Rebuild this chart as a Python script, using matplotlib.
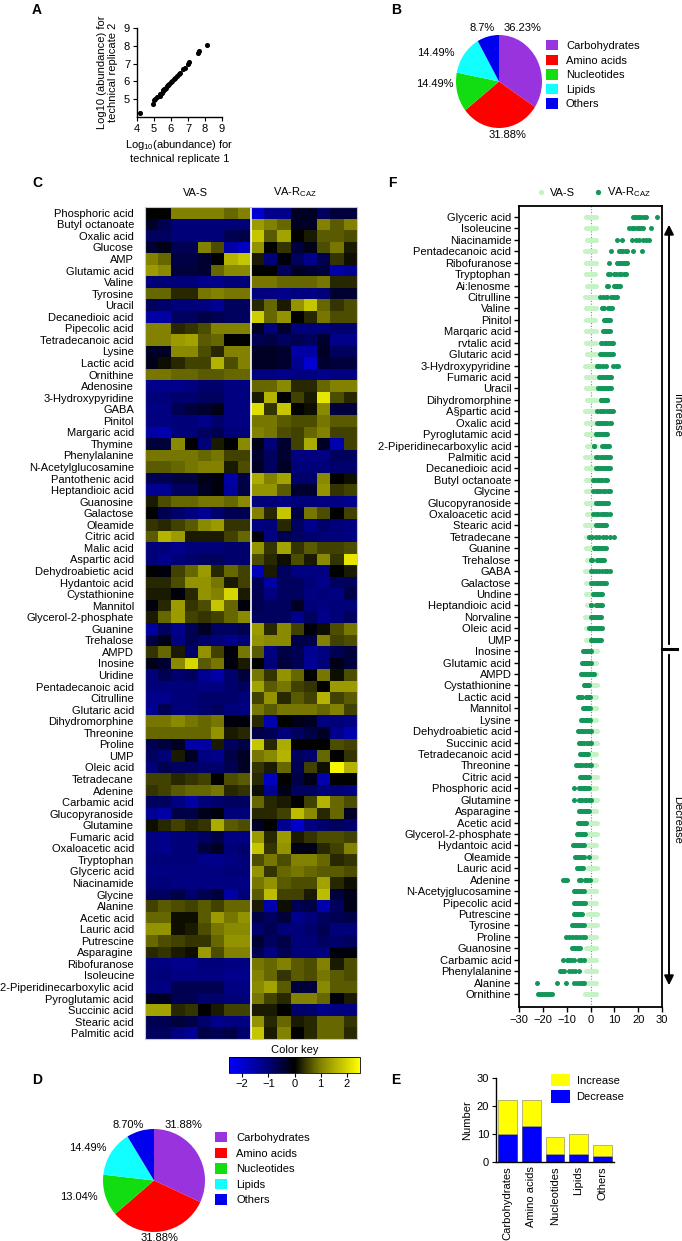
import numpy as np
import matplotlib
matplotlib.use("Agg")
import matplotlib.pyplot as plt
from matplotlib.colors import LinearSegmentedColormap, Normalize
from matplotlib.cm import ScalarMappable
from matplotlib.patches import Patch, FancyArrowPatch
from matplotlib.lines import Line2D

plt.rcParams['font.family'] = ['Liberation Sans', 'DejaVu Sans']
plt.rcParams['font.size'] = 8
plt.rcParams['mathtext.default'] = 'regular'
plt.rcParams['axes.linewidth'] = 1.0

# ---------------- data ----------------
# A: technical replicates (log10 abundance)
rep1 = [4.2, 4.95, 5.0, 5.05, 5.2, 5.35, 5.35, 5.45, 5.5, 5.55, 5.6, 5.65, 5.7, 5.75, 5.8, 5.85,
        5.9, 6.0, 6.05, 6.15, 6.25, 6.35, 6.45, 6.5, 6.7, 6.8, 7.0, 7.05, 7.6, 7.65, 8.1]
rep2 = [4.2, 4.75, 4.95, 5.0, 5.15, 5.2, 5.3, 5.35, 5.45, 5.5, 5.55, 5.6, 5.65, 5.72, 5.78, 5.82,
        5.88, 5.95, 6.0, 6.12, 6.2, 6.3, 6.4, 6.45, 6.7, 6.75, 7.0, 7.1, 7.6, 7.7, 8.05]

# B / D: class composition
class_names = ["Carbohydrates", "Amino acids", "Nucleotides", "Lipids", "Others"]
class_colors = ['#9933dd', '#ff0000', '#11dd11', '#11ffff', '#0000ee']
pct_b = [36.23, 31.88, 14.49, 14.49, 8.7]
pct_b_labels = ["36.23%", "31.88%", "14.49%", "14.49%", "8.7%"]
pct_d = [31.88, 31.88, 13.04, 14.49, 8.70]
pct_d_labels = ["31.88%", "31.88%", "13.04%", "14.49%", "8.70%"]

# C: heatmap (8 VA-S replicates, 8 VA-R_CAZ replicates)
hm_labels = ["Phosphoric acid", "Butyl octanoate", "Oxalic acid", "Glucose", "AMP", "Glutamic acid",
             "Valine", "Tyrosine", "Uracil", "Decanedioic acid", "Pipecolic acid", "Tetradecanoic acid",
             "Lysine", "Lactic acid", "Ornithine", "Adenosine", "3-Hydroxypyridine", "GABA", "Pinitol",
             "Margaric acid", "Thymine", "Phenylalanine", "N-Acetylglucosamine", "Pantothenic acid",
             "Heptandioic acid", "Guanosine", "Galactose", "Oleamide", "Citric acid", "Malic acid",
             "Aspartic acid", "Dehydroabietic acid", "Hydantoic acid", "Cystathionine", "Mannitol",
             "Glycerol-2-phosphate", "Guanine", "Trehalose", "AMPD", "Inosine", "Uridine",
             "Pentadecanoic acid", "Citrulline", "Glutaric acid", "Dihydromorphine", "Threonine",
             "Proline", "UMP", "Oleic acid", "Tetradecane", "Adenine", "Carbamic acid",
             "Glucopyranoside", "Glutamine", "Fumaric acid", "Oxaloacetic acid", "Tryptophan",
             "Glyceric acid", "Niacinamide", "Glycine", "Alanine", "Acetic acid", "Lauric acid",
             "Putrescine", "Asparagine", "Ribofuranose", "Isoleucine", "2-Piperidinecarboxylic acid",
             "Pyroglutamic acid", "Succinic acid", "Stearic acid", "Palmitic acid"]
hm_values = [
    [0, 0, 1, 1, 1, 1, 0.8, 1, -2, -1.2, -1.2, -0.3, -0.3, -0.8, -0.5, -0.5],
    [-0.3, -0.7, -1, -1, -1, -1, -1, -1, 1.3, 1, 0.8, -0.3, -0.3, 1, 0.7, 1],
    [-0.8, -0.8, -1, -1, -1, -1, -0.7, -0.6, 1.8, 0.7, 1.4, 0, 0.2, 0.7, 0.7, 0.6],
    [-0.4, -0.2, -0.7, -0.7, 1, 0.6, -1.5, -1.8, 1.2, 0, 0.4, -0.5, -0.2, 0.6, 0.9, 0.2],
    [1, 0.8, -0.6, -0.6, -0.4, 0, 1.6, 1.8, 0.2, -1, -0.1, -0.8, -1.2, -0.7, 0.4, 0.1],
    [1.3, 1.1, -0.5, -0.5, -0.4, 0.8, 1.1, 1.1, 0, 0, -0.8, -0.3, -0.4, -0.5, -1.5, -1.3],
    [-1, -1, -1, -1, -1.2, -1.2, -1, -1, 0.9, 0.9, 0.8, 0.8, 0.8, 0.9, 0.3, 0.3],
    [0.8, 0.8, 0.3, 0.3, 0.9, 1, 0.9, 0.9, -1.1, -1.1, -1.2, -1.1, -1.1, -1, -0.4, -0.4],
    [-0.8, -0.9, -1, -1, -1.1, -1.3, -0.8, -0.8, 0.3, 0.8, 0.2, 1.2, 1.8, 0.8, 0.4, 0.6],
    [-1.5, -1.5, -0.8, -0.8, -0.6, -0.7, -0.8, -0.8, 1.9, 0.8, 1.2, 0, 0.3, 0.9, 0.6, 0.6],
    [1, 1, 0.3, 0.4, 0.6, 1, 1, 1, -0.3, -1, -0.4, -1, -1, -1, -0.9, -0.9],
    [1, 1, 1.3, 1.4, 0.7, 0.8, 0, 0, -0.7, -0.6, -0.8, -0.7, -0.8, -0.4, -1.2, -1.2],
    [-0.3, -0.3, 1.1, 1.1, 0.6, 0.3, 1, 1, -0.3, -0.3, -0.4, -1.5, -1.5, -0.3, -0.8, -0.8],
    [-0.2, 0.1, 0.3, 0.5, 0.5, 1.6, 0.6, 1, -0.3, -0.3, -0.4, -1.3, -2, -0.4, -0.5, -0.5],
    [0.9, 0.9, 0.8, 0.8, 0.7, 0.7, 0.8, 0.8, -1.1, -1.1, -1.2, -1.1, -1.1, -1.2, -1.1, -1.1],
    [-1.2, -1.2, -1.2, -1.1, -0.9, -0.9, -1.1, -1.1, 0.8, 0.8, 1.1, 0.3, 0.3, 0.8, 1, 1],
    [-1, -1, -0.9, -0.9, -0.8, -0.8, -1.1, -1.1, 0.2, 1.6, 0, 0.5, 0.2, 2.2, 0.6, 0.3],
    [-1.1, -1.1, -0.7, -0.5, -0.4, -0.2, -1.1, -1.1, 2.1, 0.4, 1.8, 0, 0.1, 1.1, -0.5, -0.5],
    [-1.1, -1.1, -1, -1, -1.2, -0.9, -1.1, -1.1, 0.9, 0.9, 0.7, 0.6, 0.6, 0.9, 0.7, 0.7],
    [-1.5, -1.6, -1, -1, -0.8, -0.7, -1, -1, 1, 0.9, 0.6, 0.5, 0.8, 1, 0.5, 0.5],
    [-0.5, -0.5, 1.1, 0, -1, 0.2, 0, 1.1, -0.2, -1, -0.4, 0.5, 1.5, -0.3, -1.6, 0.5],
    [0.9, 0.9, 0.9, 0.9, 0.8, 0.9, 0.5, 0.5, -0.4, -0.8, -0.4, -1.1, -1.1, -1.1, -0.8, -0.8],
    [0.7, 0.7, 0.8, 0.9, 1, 1, 0.2, 0.6, -0.3, -0.8, -0.3, -1, -1, -1, -0.9, -0.9],
    [-0.7, -0.7, -0.5, -0.5, -0.2, -0.1, -1.5, -0.6, 1.5, 1, 1.4, -0.9, -0.9, 1.1, 0, 0.1],
    [-1.3, -1.3, -0.8, -0.8, -0.3, -0.1, -1.4, -0.6, 1.2, 1.2, 0.7, -0.4, -0.4, 1.2, 0.4, 0.5],
    [0.2, 0.6, 0.8, 0.8, 0.9, 0.9, 0.8, 1.1, -1, -1, -1.1, -1, -1, -1.1, -1.1, -1.2],
    [0, -0.7, -0.9, -1.1, -1.3, -0.9, -0.7, -0.7, 1, 0.3, 1.8, -0.6, 0.9, 0.6, 0, 0.5],
    [0.4, 0.3, 0.5, 0.7, 1.1, 1.3, 0.4, 0.4, -1.1, -1, 0.3, -0.8, -1.2, -0.9, -1, -1.1],
    [0.7, 1.6, 1.3, 0.2, 0.2, 0.2, 0.5, 0.8, -0.1, -1.1, -0.7, -0.8, -0.9, -1, -1, -1.1],
    [-1, -1, -1.2, -1, -1, -1, -0.9, -0.9, 1.2, 0.4, 1.4, 0.4, 0.7, 0.5, 0.5, 0.6],
    [-1, -1.2, -1, -0.9, -0.8, -0.8, -0.9, -0.9, 0.6, 0.3, 0.1, 0.6, 0.2, 1.1, 0.4, 2.2],
    [0, -0.1, 0.5, 0.8, 1.3, 0.3, 0.8, 0.5, -1.7, 0.2, -0.8, -1.1, -1.1, -1.1, 0, 0.2],
    [0.3, 0.3, 0.6, 1.2, 1.2, 0.9, 0.2, 0.5, -0.7, -1.5, -0.8, -0.8, -1, -1.2, -0.8, -0.8],
    [0.2, 0.2, -0.1, 0.3, 1.2, 1, 2, 0.2, -0.7, -1.1, -0.8, -0.8, -1.1, -1, -1.1, -0.6],
    [-0.1, 0.3, 1.3, 0.4, 0.6, 1.8, 0.8, -0.1, -0.7, -0.8, -0.8, -0.3, -1, -1.1, -1, -1],
    [0.2, 0.8, 1.3, 0.5, 0.4, 0.5, 0.8, 1.1, -0.8, -0.8, -0.8, -1.2, -0.8, -1.2, -1, -0.8],
    [-1.4, -0.8, -1.2, -0.7, -0.3, -0.8, -0.8, -0.7, 1.3, 0.3, 1.1, 0.5, -0.1, 0.1, 0.6, 0.9],
    [-0.6, -0.2, -1.1, -0.7, -0.9, -1, -1.2, -1, 1.2, 1.1, 1.1, -0.6, -0.6, 1, 0.5, 0.6],
    [0.4, 0.8, 0.2, -0.9, 1.2, 0.5, -0.1, 0.9, 0.7, -1.1, -0.6, -0.7, -1.3, -1.1, -0.7, -0.5],
    [-0.2, -0.4, 1.1, 2, 0.7, 0.9, -0.1, 0.2, 0, -1, -0.5, -0.7, -1.3, -1, -0.2, -0.5],
    [-1, -0.7, -0.9, -0.8, -1.3, -1.5, -0.9, -0.5, 0.9, 0.4, 1.2, 0.8, 0, 0.9, 0.1, 0.6],
    [-1, -1, -1, -1, -1.1, -1.1, -0.9, -0.8, 1.4, 0.7, 0.9, 0.5, 0.4, 0, 1.3, 1.3],
    [-1.2, -1.2, -1, -1, -0.9, -0.9, -0.9, -1, 0.5, 1.2, 0.3, 0.7, 0.5, 1.6, 0.5, 0.7],
    [-1.3, -0.7, -1, -1, -0.9, -0.8, -1, -1.1, 0.9, 0.7, 0.9, 0.9, 0.9, 0.8, 1, 0.5],
    [0.9, 0.9, 1.1, 0.9, 0.8, 0.9, -0.1, -0.1, 0.3, -1.6, 0, -0.2, -0.3, -1.1, -1, -1.1],
    [0.8, 0.8, 0.8, 0.8, 0.8, 1.2, 0.2, 0.3, -0.6, -0.7, -1, -0.8, -0.6, -0.3, -1.2, -1.6],
    [-0.7, -0.5, -0.3, -1.5, -1.5, 0.2, -0.8, -0.6, 1.8, 0.3, 1.5, 0, 0, 0, 0.6, 0.5],
    [-0.8, -1, 0.2, -0.3, -1.1, -1.2, -0.6, -0.3, 0.9, 1.1, 1.6, -0.8, -0.9, 0.8, 0, 0.4],
    [-1, -0.7, -0.8, -0.8, -0.9, -0.9, -0.7, -0.3, 0.4, 0.2, 0.8, -0.7, 0.5, 0.1, 2.4, 1.6],
    [0.5, 0.5, 0.3, 0.4, 0.5, 0, 0.6, 0.7, 0.3, -1.8, 0, -0.6, -0.2, -1.6, 0, 0],
    [0.4, 0.5, 0.7, 0.8, 0.8, 0.9, 0.3, 0.4, 0.1, -1.3, -0.2, -0.8, -0.8, -1, -1, -1.1],
    [-0.8, -0.8, -1.1, -1.5, -1, -0.9, -0.8, -0.8, 0.8, 0.3, 0.2, 0, 0.5, 1.6, 0.8, 0.6],
    [-1.3, -1.5, -0.6, -0.6, -0.2, -0.1, -1, -1, 0.3, 0.3, 0.5, 1.7, 1.1, 0.3, 0.8, -0.3],
    [0.1, 0.3, 0.5, 0.3, 0.4, 1.5, 0.7, 0.6, -0.3, 0, -1.3, -1.9, -1.1, -0.9, -0.8, -0.9],
    [-1.1, -1.2, -1, -1, -0.8, -0.6, -1.1, -1.1, 1.3, 0.3, 1.3, 0.2, 0.4, 0.6, 0.6, 0.5],
    [-1.1, -1.2, -1, -1, -0.5, -0.3, -1, -0.9, 1.8, 0.4, 1.2, -0.2, -0.2, 0.3, 0.5, 1],
    [-1, -1, -1, -1, -1.2, -1.2, -1.1, -1, 0.6, 0.9, 0.6, 1, 1, 0.8, 0.3, 0.4],
    [-1.1, -1.1, -1.1, -1.1, -1.1, -1.1, -1, -1, 1.2, 0.4, 0.8, 0.9, 0.8, 0.7, 0.7, 0.6],
    [-1, -1, -1.1, -1.1, -1.1, -1.1, -1.1, -1.1, 0.9, 1.2, 0.7, 0.6, 0.6, 1.4, 0.3, 0.1],
    [-0.8, -0.8, -0.6, -0.9, -0.7, -0.5, -1.5, -1, 0.7, 1.7, 0.5, 0.5, 0.2, 1.7, -0.5, -0.2],
    [0.5, 0.7, 0.6, 0.5, 0.7, 0.5, 0.8, 0.8, 0.2, -1.6, 0.1, -0.7, -0.6, -1.6, -0.8, -0.2],
    [0.8, 0.8, 0.1, 0.1, 0.7, 1.3, 0.9, 1.2, -0.6, -0.8, -0.5, -1.2, -1, -0.8, -0.7, -0.6],
    [1.2, 1.2, 0.1, 0.2, 0.6, 0.9, 1.1, 1.1, -0.9, -0.7, -1, -1, -0.9, -0.7, -1, -1],
    [0.8, 0.6, 0.5, 0.4, 0.4, 0.8, 1.2, 1.2, -0.4, -0.8, -0.6, -1, -1, -0.8, -0.9, -0.8],
    [0.3, 0.4, 0.2, 0.1, 1.3, 0.6, 1, 1, -0.7, -1.1, -0.7, -1, -1, -1.1, -0.1, -0.1],
    [-1.1, -1.1, -1.2, -1.2, -1, -1, -1.1, -1.1, 0.9, 0.8, 1, 0.7, 0.6, 1, 0.2, 0.6],
    [-1, -1, -1.1, -1.1, -1.1, -1.1, -1.2, -1.2, 1, 0.8, 0.4, 0.7, 0.6, 0.9, 0.7, 0.6],
    [-1.1, -1.1, -0.7, -0.7, -0.7, -0.7, -1.1, -1.1, 1.1, 1.4, 0.7, -0.5, -0.5, 1.1, 0.7, 0.7],
    [-0.3, -0.3, -0.7, -0.7, -0.9, -0.9, -1, -1, 0.9, 0.5, 0.3, 1, 1, 0.8, -0.1, 0.2],
    [1.4, 1.4, 0.3, 0.4, 0, 0.2, 0.5, 0.5, 0.2, 0.2, 0, -0.9, -0.9, -1.2, -1.1, -1.1],
    [-0.7, -0.7, -0.5, -0.6, -0.9, -1.2, -1.1, -1.1, 1.2, 0.3, 0.8, 0.2, 0.3, 0.8, 0.8, 0.4],
    [-0.8, -0.8, -1.1, -1.3, -0.6, -0.7, -0.6, -0.9, 1.8, 0.2, 1, 0, 0.3, 0.8, 0.8, 0.3],
]

# E: counts per class
n_increase = [12, 9, 6, 7, 4]
n_decrease = [10, 13, 3, 3, 2]

# F: fold change per metabolite (8 replicates each)
f_labels = ["Glyceric acid", "Isoleucine", "Niacinamide", "Pentadecanoic acid", "Ribofuranose",
            "Tryptophan", "Ai:lenosme", "Citrulline", "Valine", "Pinitol", "Marqaric acid",
            "rvtalic acid", "Glutaric acid", "3-Hydroxypyridine", "Fumaric acid", "Uracil",
            "Dihydromorphine", "A§partic acid", "Oxalic acid", "Pyroglutamic acid",
            "2-Piperidinecarboxylic acid", "Palmitic acid", "Decanedioic acid", "Butyl octanoate",
            "Glycine", "Glucopyranoside", "Oxaloacetic acid", "Stearic acid", "Tetradecane",
            "Guanine", "Trehalose", "GABA", "Galactose", "Undine", "Heptandioic acid", "Norvaline",
            "Oleic acid", "UMP", "Inosine", "Glutamic acid", "AMPD", "Cystathionine", "Lactic acid",
            "Mannitol", "Lysine", "Dehydroabietic acid", "Succinic acid", "Tetradecanoic acid",
            "Threonine", "Citric acid", "Phosphoric acid", "Glutamine", "Asparagine", "Acetic acid",
            "Glycerol-2-phosphate", "Hydantoic acid", "Oleamide", "Lauric acid", "Adenine",
            "N-Acetyjglucosamine", "Pipecolic acid", "Putrescine", "Tyrosine", "Proline",
            "Guanosine", "Carbamic acid", "Phenylalanine", "Alanine", "Ornithine"]
f_var = [
    [17.7, 18.6, 19.4, 20.5, 21.3, 22.4, 23.3, 28.0],
    [16.3, 17.3, 18.2, 19.4, 20.4, 21.2, 21.9, 25.2],
    [11.0, 13.4, 17.4, 19.1, 20.4, 22.0, 23.4, 24.7],
    [8.5, 12.0, 12.9, 13.6, 14.7, 15.5, 18.0, 21.5],
    [7.8, 11.0, 11.9, 12.5, 13.4, 14.1, 14.8, 15.3],
    [7.4, 8.3, 9.8, 10.5, 11.9, 12.6, 14.1, 14.9],
    [6.8, 7.5, 9.9, 10.3, 10.7, 11.2, 11.8, 12.4],
    [4.0, 5.2, 6.3, 7.1, 8.4, 9.5, 10.4, 11.3],
    [4.8, 5.2, 5.6, 7.2, 7.6, 8.1, 8.6, 8.9],
    [5.7, 6.1, 6.5, 6.9, 7.2, 7.6, 7.9, 8.2],
    [5.2, 5.7, 6.1, 6.6, 7.1, 7.5, 7.8, 8.2],
    [4.2, 5.0, 5.9, 6.6, 7.4, 8.3, 9.0, 9.6],
    [4.0, 4.8, 5.7, 6.4, 7.3, 8.0, 8.9, 9.6],
    [2.8, 3.3, 4.0, 5.2, 6.4, 9.6, 10.5, 11.6],
    [3.5, 4.3, 5.1, 5.9, 6.8, 7.4, 8.1, 8.5],
    [3.1, 3.9, 4.8, 5.7, 6.4, 7.3, 8.1, 8.8],
    [4.2, 4.6, 5.1, 5.5, 5.9, 6.4, 6.8, 7.1],
    [2.8, 3.8, 4.9, 5.8, 6.8, 7.9, 8.8, 9.6],
    [2.8, 3.6, 4.4, 5.3, 6.2, 7.0, 8.0, 8.8],
    [2.1, 2.8, 3.5, 4.3, 5.1, 5.8, 6.5, 7.1],
    [1.4, 1.6, 5.0, 5.5, 6.1, 6.6, 7.2, 7.8],
    [2.5, 3.3, 4.2, 4.9, 5.8, 6.6, 7.4, 8.2],
    [2.1, 3.0, 3.8, 4.8, 5.7, 6.5, 7.4, 8.2],
    [1.1, 1.3, 2.8, 3.5, 4.3, 5.0, 5.9, 7.1],
    [1.1, 2.1, 3.2, 4.1, 5.2, 6.1, 7.2, 8.2],
    [2.1, 2.8, 3.7, 4.4, 5.1, 5.8, 6.6, 7.4],
    [1.1, 2.2, 3.1, 4.2, 5.1, 6.2, 7.1, 8.2],
    [2.5, 3.1, 3.6, 4.3, 4.9, 5.5, 6.1, 6.6],
    [-0.8, 0.6, 2.2, 3.6, 5.1, 6.7, 8.2, 9.9],
    [1.4, 1.9, 2.7, 3.4, 4.2, 5.0, 5.7, 6.5],
    [0.4, 0.6, 2.8, 3.3, 3.9, 4.5, 5.2, 5.7],
    [0.0, 1.1, 2.3, 3.6, 4.7, 5.9, 7.1, 8.2],
    [0.4, 1.2, 2.1, 3.0, 3.9, 4.7, 5.6, 6.4],
    [1.1, 1.6, 2.2, 2.8, 3.3, 3.9, 4.5, 5.0],
    [0.0, 0.3, 2.1, 2.7, 3.3, 3.9, 4.5, 5.0],
    [0.3, 0.9, 1.5, 2.1, 2.7, 3.3, 3.9, 4.5],
    [-0.7, 0.1, 0.9, 1.8, 2.6, 3.4, 4.2, 5.0],
    [0.0, 0.6, 1.2, 1.8, 2.4, 3.0, 3.6, 4.2],
    [-3.1, -2.7, -2.2, -1.8, -1.3, -0.9, -0.4, 0.0],
    [-3.4, -2.9, -2.4, -1.9, -1.5, -1.0, -0.5, 0.0],
    [-3.8, -3.1, -2.4, -1.6, -0.9, -0.2, 0.6, 1.4],
    [-2.8, -2.5, -2.2, -1.9, -1.6, -1.3, -1.0, -0.7],
    [-5.4, -4.8, -4.2, -3.5, -1.7, -1.2, -0.8, -0.3],
    [-3.1, -2.7, -2.3, -1.9, -1.5, -1.1, -0.7, -0.3],
    [-4.0, -3.5, -3.0, -2.4, -1.9, -1.4, -0.9, -0.4],
    [-5.4, -4.7, -3.9, -3.1, -2.3, -1.5, -0.8, 0.0],
    [-5.0, -4.5, -3.9, -3.4, -2.8, -1.4, -0.6, 0.3],
    [-4.2, -3.8, -3.3, -2.9, -2.4, -2.0, -1.5, -1.1],
    [-5.9, -5.1, -4.2, -3.4, -2.5, -1.7, -0.8, 0.0],
    [-4.5, -4.0, -3.4, -2.9, -2.3, -1.8, -1.2, -0.7],
    [-6.8, -5.0, -4.3, -3.5, -2.8, -2.1, -1.4, -0.7],
    [-6.8, -5.0, -4.2, -3.4, -2.5, -1.7, -0.8, 0.0],
    [-5.0, -4.4, -3.8, -3.2, -2.5, -1.9, -1.3, -0.7],
    [-5.4, -4.9, -4.3, -3.8, -3.3, -2.8, -2.2, -1.7],
    [-5.7, -5.2, -4.7, -4.2, -3.6, -3.1, -2.6, -2.1],
    [-7.4, -6.8, -6.1, -5.5, -4.7, -4.1, -3.4, -2.8],
    [-6.4, -5.8, -5.1, -4.5, -3.8, -3.3, -2.8, -0.7],
    [-5.7, -5.3, -5.0, -4.6, -4.2, -3.8, -3.4, -3.1],
    [-11.6, -10.8, -9.9, -5.0, -3.8, -2.5, -1.3, -0.3],
    [-7.1, -6.5, -5.9, -5.3, -4.6, -4.0, -3.4, -2.8],
    [-7.1, -6.5, -5.8, -5.1, -4.5, -3.8, -3.2, -2.5],
    [-7.1, -6.6, -6.1, -5.6, -5.0, -4.5, -4.0, -3.5],
    [-7.8, -7.1, -6.5, -5.8, -5.1, -4.2, -3.5, -2.8],
    [-10.2, -9.0, -7.8, -6.7, -5.5, -4.4, -3.2, -2.1],
    [-7.8, -7.3, -6.8, -6.3, -5.7, -5.2, -4.7, -4.2],
    [-11.6, -10.0, -9.0, -8.1, -7.1, -5.0, -3.9, -2.8],
    [-13.0, -12.3, -11.6, -11.0, -8.9, -7.6, -6.3, -5.0],
    [-22.6, -14.1, -10.2, -7.1, -5.7, -4.3, -3.5, -2.8],
    [-21.9, -21.1, -20.3, -19.5, -18.7, -17.9, -17.1, -16.3],
]
f_vas = [
    [-1.8, -1.2, -0.6, 0.0, 0.5, 1.0, 1.6, 2.3], [-2.0, -1.4, -0.8, -0.2, 0.4, 0.9, 1.5, 2.1],
    [-1.6, -1.0, -0.5, 0.1, 0.6, 1.2, 1.9, 2.5], [-2.1, -1.3, -0.7, -0.1, 0.3, 0.8, 1.4, 2.0],
    [-1.7, -1.1, -0.6, 0.0, 0.5, 1.1, 1.7, 2.4], [-2.0, -1.5, -0.9, -0.3, 0.3, 0.9, 1.4, 2.0],
    [-1.5, -1.0, -0.4, 0.2, 0.7, 1.2, 1.8, 2.4], [-2.1, -1.4, -0.8, -0.2, 0.4, 1.0, 1.6, 2.2],
    [-1.8, -1.2, -0.7, -0.1, 0.5, 1.0, 1.7, 2.3], [-1.9, -1.3, -0.8, -0.2, 0.3, 0.9, 1.5, 2.0],
    [-1.7, -1.1, -0.5, 0.1, 0.6, 1.1, 1.7, 2.3], [-2.0, -1.4, -0.7, -0.1, 0.4, 1.0, 1.6, 2.2],
    [-1.6, -1.0, -0.5, 0.1, 0.7, 1.3, 1.9, 2.5], [-2.1, -1.5, -0.9, -0.3, 0.2, 0.8, 1.4, 2.0],
    [-1.8, -1.2, -0.6, 0.0, 0.5, 1.0, 1.6, 2.3], [-2.0, -1.4, -0.8, -0.2, 0.4, 0.9, 1.5, 2.1],
    [-1.6, -1.0, -0.5, 0.1, 0.6, 1.2, 1.9, 2.5], [-2.1, -1.3, -0.7, -0.1, 0.3, 0.8, 1.4, 2.0],
    [-1.7, -1.1, -0.6, 0.0, 0.5, 1.1, 1.7, 2.4], [-2.0, -1.5, -0.9, -0.3, 0.3, 0.9, 1.4, 2.0],
    [-1.5, -1.0, -0.4, 0.2, 0.7, 1.2, 1.8, 2.4], [-2.1, -1.4, -0.8, -0.2, 0.4, 1.0, 1.6, 2.2],
    [-1.8, -1.2, -0.7, -0.1, 0.5, 1.0, 1.7, 2.3], [-1.9, -1.3, -0.8, -0.2, 0.3, 0.9, 1.5, 2.0],
    [-1.7, -1.1, -0.5, 0.1, 0.6, 1.1, 1.7, 2.3], [-2.0, -1.4, -0.7, -0.1, 0.4, 1.0, 1.6, 2.2],
    [-1.6, -1.0, -0.5, 0.1, 0.7, 1.3, 1.9, 2.5], [-2.1, -1.5, -0.9, -0.3, 0.2, 0.8, 1.4, 2.0],
    [-1.8, -1.2, -0.6, 0.0, 0.5, 1.0, 1.6, 2.3], [-2.0, -1.4, -0.8, -0.2, 0.4, 0.9, 1.5, 2.1],
    [-1.6, -1.0, -0.5, 0.1, 0.6, 1.2, 1.9, 2.5], [-2.1, -1.3, -0.7, -0.1, 0.3, 0.8, 1.4, 2.0],
    [-1.7, -1.1, -0.6, 0.0, 0.5, 1.1, 1.7, 2.4], [-2.0, -1.5, -0.9, -0.3, 0.3, 0.9, 1.4, 2.0],
    [-1.5, -1.0, -0.4, 0.2, 0.7, 1.2, 1.8, 2.4], [-2.1, -1.4, -0.8, -0.2, 0.4, 1.0, 1.6, 2.2],
    [-1.8, -1.2, -0.7, -0.1, 0.5, 1.0, 1.7, 2.3], [-1.9, -1.3, -0.8, -0.2, 0.3, 0.9, 1.5, 2.0],
    [-1.4, -0.9, -0.3, 0.3, 0.8, 1.3, 1.9, 2.6], [-1.3, -0.8, -0.2, 0.4, 0.9, 1.4, 2.0, 2.5],
    [-1.5, -1.0, -0.4, 0.2, 0.7, 1.2, 1.8, 2.4], [-1.2, -0.7, -0.1, 0.5, 1.0, 1.5, 2.0, 2.6],
    [-1.4, -0.9, -0.3, 0.3, 0.8, 1.3, 1.9, 2.5], [-1.3, -0.8, -0.2, 0.4, 0.9, 1.4, 2.0, 2.5],
    [-1.5, -0.9, -0.4, 0.2, 0.7, 1.3, 1.8, 2.4], [-1.2, -0.7, -0.1, 0.5, 1.0, 1.5, 2.1, 2.7],
    [-1.4, -0.9, -0.3, 0.3, 0.8, 1.3, 1.9, 2.6], [-1.3, -0.8, -0.2, 0.4, 0.9, 1.4, 2.0, 2.5],
    [-1.5, -1.0, -0.4, 0.2, 0.7, 1.2, 1.8, 2.4], [-1.2, -0.7, -0.1, 0.5, 1.0, 1.5, 2.0, 2.6],
    [-1.4, -0.9, -0.3, 0.3, 0.8, 1.3, 1.9, 2.5], [-1.3, -0.8, -0.2, 0.4, 0.9, 1.4, 2.0, 2.7],
    [-1.5, -0.9, -0.4, 0.2, 0.7, 1.3, 1.8, 2.4], [-1.2, -0.7, -0.1, 0.5, 1.0, 1.5, 2.1, 2.6],
    [-1.4, -0.9, -0.3, 0.3, 0.8, 1.3, 1.9, 2.6], [-1.3, -0.8, -0.2, 0.4, 0.9, 1.4, 2.0, 2.5],
    [-1.5, -1.0, -0.4, 0.2, 0.7, 1.2, 1.8, 2.4], [-1.2, -0.7, -0.1, 0.5, 1.0, 1.5, 2.0, 2.6],
    [-1.4, -0.9, -0.3, 0.3, 0.8, 1.3, 1.9, 2.5], [-1.3, -0.8, -0.2, 0.4, 0.9, 1.4, 2.0, 2.5],
    [-1.5, -0.9, -0.4, 0.2, 0.7, 1.3, 1.8, 2.4], [-1.2, -0.7, -0.1, 0.5, 1.0, 1.5, 2.1, 2.6],
    [-1.4, -0.9, -0.3, 0.3, 0.8, 1.3, 1.9, 2.6], [-1.3, -0.8, -0.2, 0.4, 0.9, 1.4, 2.0, 2.5],
    [-2.0, -1.4, -0.8, -0.2, 0.4, 1.0, 1.6, 2.3], [-1.8, -1.2, -0.6, 0.0, 0.6, 1.2, 1.8, 2.4],
    [-1.9, -1.3, -0.7, -0.1, 0.5, 1.1, 1.7, 2.3], [-2.0, -1.4, -0.8, -0.2, 0.4, 1.0, 1.7, 2.4],
    [-2.2, -1.5, -0.8, -0.1, 0.5, 1.1, 1.8, 2.5],
]

# ---------------- layout helpers ----------------
W, H = 682, 1241
fig = plt.figure(figsize=(W / 100, H / 100), dpi=100)


def add_ax(left, top, right, bottom):
    return fig.add_axes([left / W, 1 - bottom / H, (right - left) / W, (bottom - top) / H])


def fpos(x, y):
    return (x / W, 1 - y / H)


for letter, x, y in [("A", 37, 10), ("B", 396, 10), ("C", 37, 183), ("F", 392, 183),
                     ("D", 37, 1080), ("E", 396, 1080)]:
    fig.text(*fpos(x, y), letter, fontsize=10, fontweight='bold', ha='center', va='center')

# ---------------- A ----------------
axA = add_ax(137, 28, 222, 117)
axA.scatter(rep1, rep2, s=7, color='black', zorder=3)
axA.set_xlim(4, 9)
axA.set_ylim(4, 9)
axA.set_xticks(range(4, 10))
axA.set_yticks(range(5, 10))
axA.spines[['top', 'right']].set_visible(False)
axA.tick_params(direction='out', length=3, pad=2)
axA.set_xlabel("Log$_{10}$(abundance) for\ntechnical replicate 1", labelpad=3)
axA.set_ylabel("Log10 (abundance) for\ntechnical replicate 2", labelpad=4)

# ---------------- B ----------------
def draw_pie(ax, vals, labels, label_pos):
    ax.pie(vals, colors=class_colors, startangle=90, counterclock=False, radius=1,
           wedgeprops=dict(linewidth=0))
    ax.set_aspect('auto')
    ax.set_xlim(-1, 1)
    ax.set_ylim(-1, 1)
    for txt, (px, py) in zip(labels, label_pos):
        ax.text(px, py, txt, ha='center', va='center', fontsize=8, clip_on=False)


axB = add_ax(456, 35, 542, 128)
draw_pie(axB, pct_b, pct_b_labels,
         [(0.55, 1.14), (0.19, -1.16), (-1.5, -0.06), (-1.47, 0.62), (-0.40, 1.14)])
handles = [Patch(facecolor=c, edgecolor='none') for c in class_colors]
fig.legend(handles, class_names, loc='upper left', bbox_to_anchor=fpos(546, 40), frameon=False,
           borderpad=0, borderaxespad=0, handlelength=1.1, handleheight=1.05,
           handletextpad=0.7, labelspacing=0.33, fontsize=8)

# ---------------- C ----------------
hm_cmap = LinearSegmentedColormap.from_list(
    'bky', [(0.0, '#0000ff'), (0.3, '#000078'), (0.5, '#000000'), (0.7, '#828200'), (1.0, '#ffff00')])
hm_norm = Normalize(-2.5, 2.5)
axC = add_ax(145, 207, 357, 1039)
axC.imshow(np.array(hm_values), aspect='auto', interpolation='nearest', cmap=hm_cmap, norm=hm_norm)
axC.axvline(7.5, color='white', lw=1.2)
axC.set_xticks([])
axC.set_yticks(range(len(hm_labels)))
axC.set_yticklabels(hm_labels)
axC.tick_params(axis='y', length=0, pad=8)
for sp in axC.spines.values():
    sp.set_color('#c8c8c8')
    sp.set_linewidth(0.8)
axC.text(3.3, -1.75, "VA-S", ha='center', va='center', fontsize=8, clip_on=False)
axC.text(10.8, -1.75, "VA-R$_{CAZ}$", ha='center', va='center', fontsize=8, clip_on=False)

axCB = add_ax(229, 1057, 360, 1073)
cb = fig.colorbar(ScalarMappable(norm=hm_norm, cmap=hm_cmap), cax=axCB, orientation='horizontal',
                  ticks=[-2, -1, 0, 1, 2])
cb.outline.set_linewidth(0.6)
axCB.tick_params(length=3, pad=1.5, labelsize=8)
axCB.set_title("Color key", fontsize=8, pad=3)

# ---------------- D ----------------
axD = add_ax(103, 1129, 205, 1232)
draw_pie(axD, pct_d, pct_d_labels,
         [(0.57, 1.08), (0.10, -1.12), (-1.47, -0.33), (-1.29, 0.63), (-0.51, 1.08)])
fig.legend(handles, class_names, loc='upper left', bbox_to_anchor=fpos(215, 1132), frameon=False,
           borderpad=0, borderaxespad=0, handlelength=1.1, handleheight=1.05,
           handletextpad=0.8, labelspacing=0.42, fontsize=8)

# ---------------- E ----------------
axE = add_ax(496, 1078, 614, 1162)
xpos = np.arange(len(class_names))
axE.bar(xpos, n_decrease, width=0.8, color='#0000ff', edgecolor='#333366', linewidth=0.5)
axE.bar(xpos, n_increase, width=0.8, bottom=n_decrease, color='#ffff00', edgecolor='#999966',
        linewidth=0.5)
axE.set_xlim(-0.5, 4.5)
axE.set_ylim(0, 30)
axE.set_yticks([0, 10, 20, 30])
axE.set_xticks(xpos)
axE.set_xticklabels(class_names, rotation=90)
axE.spines[['top', 'right']].set_visible(False)
axE.tick_params(direction='out', length=3, pad=2)
axE.tick_params(axis='x', length=0, pad=3)
axE.set_ylabel("Number", labelpad=3)
axE.legend([Patch(facecolor='#ffff00'), Patch(facecolor='#0000ff')], ["Increase", "Decrease"],
           loc='upper left', bbox_to_anchor=((551 - 496) / 118, (1162 - 1074) / 84), frameon=False,
           borderpad=0, borderaxespad=0, handlelength=1.7, handleheight=1.35, handletextpad=0.6,
           labelspacing=0.35, fontsize=8)

# ---------------- F ----------------
axF = add_ax(519, 206, 662, 1007)
rows = np.arange(len(f_labels))
axF.axvline(0, color='#888888', lw=0.8, ls=(0, (1, 1.5)), zorder=1)
axF.scatter(np.ravel(f_vas), np.repeat(rows, 8), s=13, color='#c6f3c6', linewidths=0, zorder=2)
axF.scatter(np.ravel(f_var), np.repeat(rows, 8), s=13, color='#14965a', linewidths=0, zorder=3)
axF.set_xlim(-30, 30)
axF.set_ylim(len(f_labels) + 0.14, -0.96)
axF.set_xticks(range(-30, 31, 10))
axF.set_yticks(rows)
axF.set_yticklabels(f_labels)
axF.tick_params(direction='out', length=3.5, width=1, pad=2)
for sp in axF.spines.values():
    sp.set_linewidth(1.3)
f_handles = [Line2D([], [], ls='none', marker='o', ms=3.8, mec='none', mfc='#c6f3c6'),
             Line2D([], [], ls='none', marker='o', ms=3.8, mec='none', mfc='#14965a')]
axF.legend(f_handles, ["VA-S", "VA-R$_{CAZ}$"], loc='lower center', bbox_to_anchor=(0.52, 1.0),
           ncol=2, frameon=False, handletextpad=0.3, columnspacing=1.6, borderaxespad=0.2,
           handlelength=1.0, fontsize=8)

# increase / decrease brackets
fig.add_artist(FancyArrowPatch(fpos(669, 647), fpos(669, 222), transform=fig.transFigure,
                               arrowstyle='-|>', mutation_scale=14, lw=1.4, color='black'))
fig.add_artist(FancyArrowPatch(fpos(669, 652), fpos(669, 988), transform=fig.transFigure,
                               arrowstyle='-|>', mutation_scale=14, lw=1.4, color='black'))
fig.add_artist(Line2D([662 / W, 677 / W], [1 - 649 / H, 1 - 649 / H], transform=fig.transFigure,
                      color='black', lw=2.2))
fig.text(*fpos(677, 415), "Increase", rotation=270, ha='center', va='center', fontsize=8)
fig.text(*fpos(677, 820), "Decrease", rotation=270, ha='center', va='center', fontsize=8)

fig.savefig("out.png", dpi=100)
